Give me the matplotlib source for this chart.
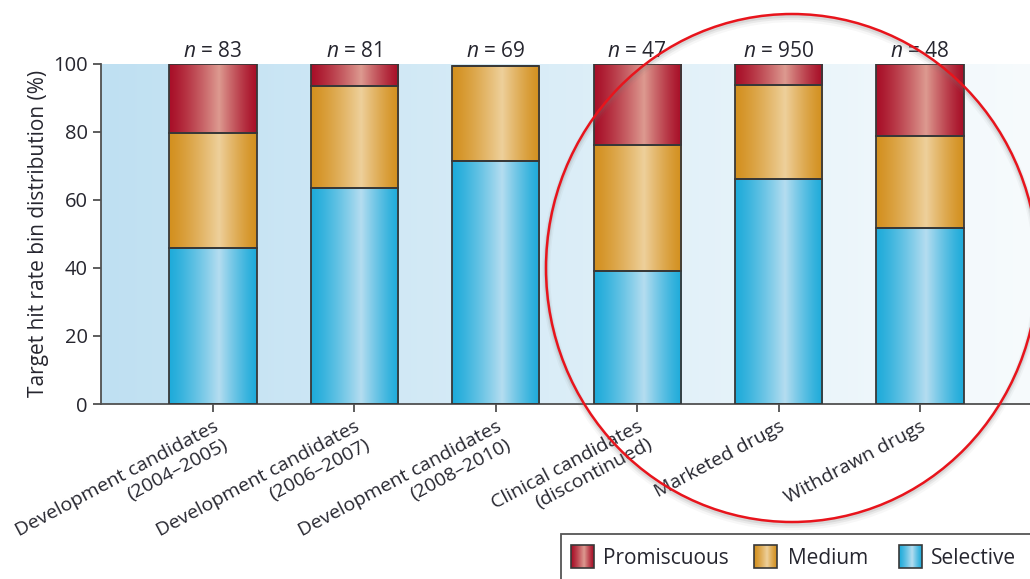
import numpy as np
import matplotlib
matplotlib.use("Agg")
import matplotlib.pyplot as plt
from matplotlib.patches import Ellipse, Rectangle
from matplotlib.colors import to_rgb

# ---- data -----------------------------------------------------------------
categories = [
    "Development candidates\n(2004–2005)",
    "Development candidates\n(2006–2007)",
    "Development candidates\n(2008–2010)",
    "Clinical candidates\n(discontinued)",
    "Marketed drugs",
    "Withdrawn drugs",
]
n_counts = [83, 81, 69, 47, 950, 48]
selective = [45.7, 63.4, 71.4, 39.2, 66.0, 51.8]
medium = [33.9, 30.1, 27.8, 36.8, 27.7, 26.9]
promiscuous = [20.4, 6.5, 0.0, 24.0, 6.3, 21.3]
y_ticks = [0, 20, 40, 60, 80, 100]
legend_names = ["Promiscuous", "Medium", "Selective"]

# ---- style ----------------------------------------------------------------
FONT = "Open Sans"
plt.rcParams["font.family"] = [FONT, "DejaVu Sans"]
plt.rcParams["mathtext.fontset"] = "custom"
plt.rcParams["mathtext.it"] = f"{FONT}:italic"
plt.rcParams["mathtext.rm"] = FONT
TEXT = "#26262f"
AXIS = "#505050"
FS = 14

# edge / highlight colours of the cylinder shading
COLORS = {
    "Selective": ("#1eabda", "#b5ddf0"),
    "Medium": ("#d3901f", "#eed09b"),
    "Promiscuous": ("#a80f28", "#dd9a90"),
}


def cylinder(edge, light, n=240):
    t = np.linspace(0, 1, n)
    p = 0.57
    w = np.where(t < p, t / p, (1 - t) / (1 - p)) ** 1.25
    e = np.array(to_rgb(edge))
    l = np.array(to_rgb(light))
    return (e[None, :] * (1 - w[:, None]) + l[None, :] * w[:, None])[None, :, :]


W, H = 1030, 579
fig = plt.figure(figsize=(W / 100, H / 100), dpi=100)
fig.patch.set_facecolor("white")

left_px, top_px, bot_px = 100.7, 63.7, 404.0
ax = fig.add_axes([left_px / W, 1 - bot_px / H, 1 - left_px / W, (bot_px - top_px) / H])
xlim = (-0.794, 5.778)
x = np.arange(len(categories))

# panel background: light blue fading to white towards the right
g = np.linspace(0, 1, 400)
c0, c1 = np.array(to_rgb("#bfe0f2")), np.array(to_rgb("#f7fbfd"))
bg = c0[None, None, :] * (1 - g[None, :, None]) + c1[None, None, :] * g[None, :, None]
ax.imshow(bg, extent=(xlim[0], xlim[1], 0, 100), aspect="auto", zorder=0,
          interpolation="bilinear")

# stacked bars with shaded fill
bottom = np.zeros(len(categories))
for name, vals in [("Selective", selective), ("Medium", medium),
                   ("Promiscuous", promiscuous)]:
    vals = np.asarray(vals, dtype=float)
    bars = ax.bar(x, vals, width=0.617, bottom=bottom, facecolor="none",
                  edgecolor="#383838", linewidth=1.3, zorder=3)
    grad = cylinder(*COLORS[name])
    for b in bars:
        if b.get_height() <= 0:
            continue
        x0, y0 = b.get_x(), b.get_y()
        ax.imshow(grad, extent=(x0, x0 + b.get_width(), y0, y0 + b.get_height()),
                  aspect="auto", zorder=2, interpolation="bilinear")
    bottom += vals

# sample sizes above the bars
for xi, n in zip(x, n_counts):
    ax.text(xi, 102.0, f"$n$ = {n}", ha="center", va="baseline", fontsize=15,
            color=TEXT, clip_on=False)

ax.set_xlim(*xlim)
ax.set_ylim(0, 100)
for s in ("top", "right"):
    ax.spines[s].set_visible(False)
for s in ("left", "bottom"):
    ax.spines[s].set_color(AXIS)
    ax.spines[s].set_linewidth(1.3)
ax.tick_params(axis="both", direction="out", length=6, width=1.3, color=AXIS,
               labelsize=FS, labelcolor=TEXT)
ax.tick_params(axis="y", labelsize=14.5)
ax.set_yticks(y_ticks)
ax.set_xticks(x)
ax.set_xticklabels(categories)
for lbl in ax.get_xticklabels():
    lbl.set_rotation(28)
    lbl.set_ha("right")
    lbl.set_va("top")
    lbl.set_rotation_mode("anchor")
    lbl.set_multialignment("right")
ax.set_ylabel("Target hit rate bin distribution (%)", fontsize=15, color=TEXT,
              labelpad=3)

# overlay in pixel coordinates for the highlight ring and the legend
ov = fig.add_axes([0, 0, 1, 1], zorder=10)
ov.set_xlim(0, W)
ov.set_ylim(H, 0)
ov.axis("off")
ov.patch.set_visible(False)

for off, lw, a in [(4, 6, 0.06), (3, 4, 0.10), (2, 2.5, 0.14)]:
    ov.add_patch(Ellipse((792, 268 + off), 492, 508, fill=False,
                         edgecolor="#777777", linewidth=lw, alpha=a))
ov.add_patch(Ellipse((792, 268), 492, 508, fill=False, edgecolor="#e8141c",
                     linewidth=1.8))

ov.add_patch(Rectangle((561, 534), 600, 100, facecolor="white",
                       edgecolor="#555555", linewidth=1.3))
for name, sx, tx in zip(legend_names, [571, 754, 899], [603, 788, 931]):
    ov.imshow(cylinder(*COLORS[name]), extent=(sx, sx + 23, 568, 545),
              aspect="auto", zorder=3, interpolation="bilinear")
    ov.add_patch(Rectangle((sx, 545), 23, 23, facecolor="none",
                           edgecolor="#383838", linewidth=1.2, zorder=4))
    ov.text(tx, 559, name, ha="left", va="center", fontsize=15, color=TEXT)
ov.set_xlim(0, W)
ov.set_ylim(H, 0)

fig.savefig("out.png", dpi=100, facecolor="white")
